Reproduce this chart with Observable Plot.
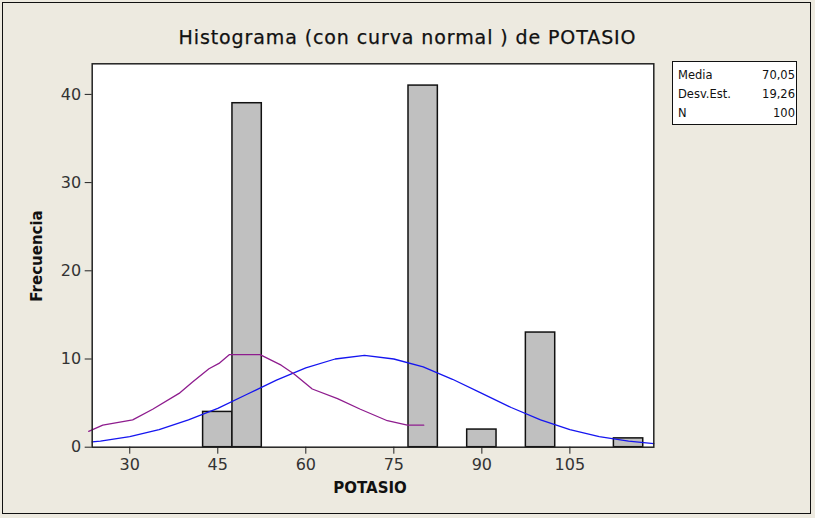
<!DOCTYPE html>
<html>
<head>
<meta charset="utf-8">
<script src="https://cdn.jsdelivr.net/npm/d3@7"></script>
<script src="https://cdn.jsdelivr.net/npm/@observablehq/plot@0.6"></script>
<style>
  html, body { margin: 0; padding: 0; background: #EDEAE0; }
  #wrap { position: relative; width: 815px; height: 518px; background: #EDEAE0; overflow: hidden; font-family: "DejaVu Sans", sans-serif; }
  #border { position: absolute; left: 2px; top: 2px; width: 809px; height: 512px; border: 1px solid #111; box-sizing: border-box; }
  #title { position: absolute; left: 0; width: 815px; top: 26px; text-align: center; font-size: 19px; color: #111; letter-spacing: 0.9px; -webkit-text-stroke: 0.25px #111; }
  #ylab { position: absolute; left: 37px; top: 256px; transform: translate(-50%, -50%) rotate(-90deg); font-size: 15px; font-weight: bold; color: #111; white-space: nowrap; }
  #xlab { position: absolute; left: 370px; top: 488px; transform: translate(-50%, -50%); font-size: 15px; font-weight: bold; color: #111; }
  #legend { position: absolute; left: 672px; top: 61px; width: 125px; height: 64px; border: 1px solid #111; background: #fff; box-sizing: border-box; font-size: 11.5px; color: #111; }
  #legend table { border-collapse: collapse; width: 117px; margin: 4px 0 0 5px; }
  #legend td { padding: 0; height: 19px; line-height: 19px; }
  #legend td.v { text-align: right; }
  #chart { position: absolute; left: 0; top: 0; }
</style>
</head>
<body>
<div id="wrap">
  <div id="chart"></div>
  <div id="border"></div>
  <div id="title"></div>
  <div id="ylab"></div>
  <div id="xlab"></div>
  <div id="legend"></div>
</div>
<script>
// ---- data ----
const titleText = "Histograma (con curva normal ) de POTASIO";
const xLabel = "POTASIO";
const yLabel = "Frecuencia";

const binCenters = [45, 50, 80, 90, 100, 115];
const binCounts  = [4, 39, 41, 2, 13, 1];
const binWidth = 5;

// fitted normal curve (blue)
const blueX = [23.6, 25, 30, 35, 40, 45, 50, 55, 60, 65, 70, 75, 80, 85, 90, 95, 100, 105, 110, 115, 119.3];
const blueY = [0.6, 0.7, 1.2, 2.0, 3.1, 4.4, 6.0, 7.6, 9.0, 10.0, 10.4, 10.0, 9.1, 7.7, 6.1, 4.5, 3.1, 2.0, 1.2, 0.7, 0.4];

// second (purple) curve
const purpleX = [23.0, 25.4, 30.5, 33.9, 38.4, 40.7, 43.5, 45.2, 47.0, 52.2, 55.8, 58.0, 61.1, 65.4, 69.3, 73.9, 77.3, 80.1];
const purpleY = [1.8, 2.5, 3.1, 4.3, 6.1, 7.4, 8.9, 9.5, 10.5, 10.5, 9.3, 8.3, 6.6, 5.5, 4.3, 3.0, 2.5, 2.5];

const xTicks = [30, 45, 60, 75, 90, 105];
const yTicks = [0, 10, 20, 30, 40];

const legendLabels = ["Media", "Desv.Est.", "N"];
const legendValues = ["70,05", "19,26", "100"];

// ---- build ----
const bars = binCenters.map((c, i) => ({x1: c - binWidth / 2, x2: c + binWidth / 2, y: binCounts[i]}));
const blue = blueX.map((x, i) => ({x, y: blueY[i]}));
const purple = purpleX.map((x, i) => ({x, y: purpleY[i]}));

const chart = Plot.plot({
  width: 815,
  height: 518,
  marginLeft: 91.7,
  marginRight: 161.7,
  marginTop: 63.3,
  marginBottom: 71.3,
  style: { background: "transparent", fontFamily: "DejaVu Sans, sans-serif", fontSize: "16px", color: "#222" },
  x: { domain: [23.6, 119.3] },
  y: { domain: [0, 43.47] },
  marks: [
    Plot.frame({ fill: "white", stroke: "none" }),
    Plot.rectY(bars, { x1: "x1", x2: "x2", y: "y", fill: "#C0C0C0", stroke: "#111", strokeWidth: 1.5, inset: 0 }),
    Plot.line(blue, { x: "x", y: "y", stroke: "#1515F0", strokeWidth: 1.3, clip: false }),
    Plot.line(purple, { x: "x", y: "y", stroke: "#8E1C8E", strokeWidth: 1.3, clip: false }),
    Plot.frame({ stroke: "#222", strokeWidth: 1.5 }),
    Plot.axisY({ ticks: yTicks, tickSize: 7, tickPadding: 4, label: null, stroke: "#222", fill: "#333", fontSize: 16 }),
    Plot.axisX({ ticks: xTicks, tickSize: 7, tickPadding: 4, label: null, stroke: "#222", fill: "#333", fontSize: 16 })
  ]
});
document.getElementById("chart").appendChild(chart);

document.getElementById("title").textContent = titleText;
document.getElementById("ylab").textContent = yLabel;
document.getElementById("xlab").textContent = xLabel;

const tbl = document.createElement("table");
legendLabels.forEach((l, i) => {
  const tr = document.createElement("tr");
  const a = document.createElement("td"); a.textContent = l;
  const b = document.createElement("td"); b.className = "v"; b.textContent = legendValues[i];
  tr.appendChild(a); tr.appendChild(b); tbl.appendChild(tr);
});
document.getElementById("legend").appendChild(tbl);
</script>
</body>
</html>
